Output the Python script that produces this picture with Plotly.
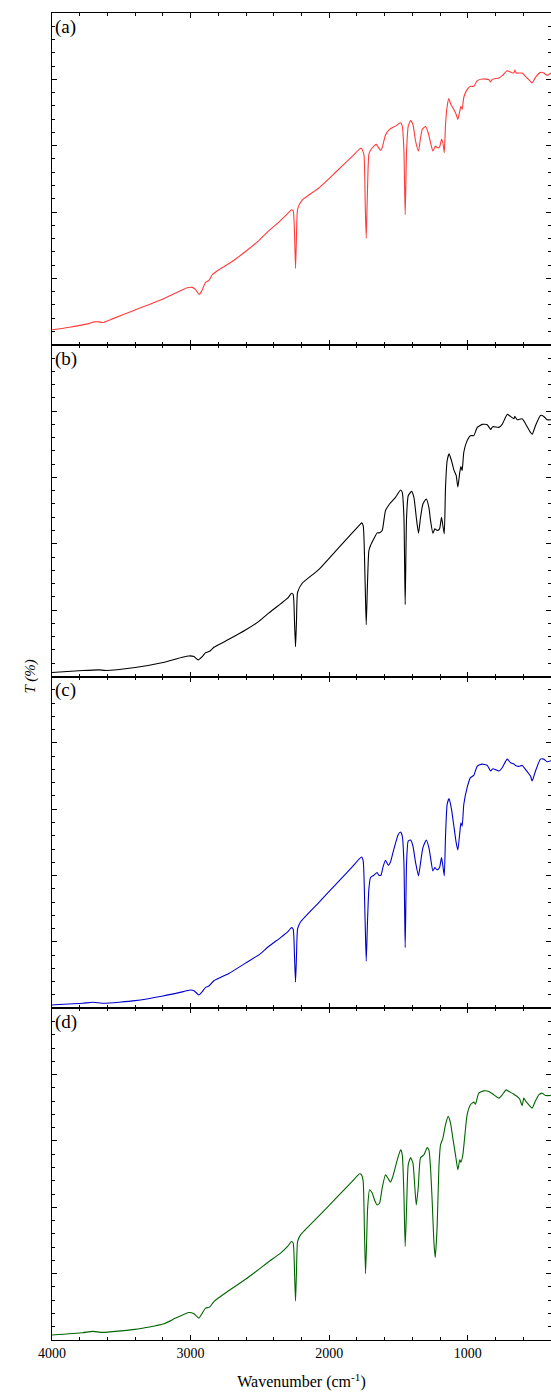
import plotly.graph_objects as go
from plotly.subplots import make_subplots

# FTIR transmittance spectra, four samples (a)-(d); T on an arbitrary 0-100 scale per panel
wn_a = [4000, 3875, 3743, 3695, 3660, 3636, 3564, 3400, 3199, 3108, 3024, 2988, 2964, 2940, 2921,
        2892, 2868, 2844, 2796, 2700, 2604, 2508, 2437, 2365, 2300, 2272, 2260, 2250, 2243, 2236,
        2228, 2195, 2074, 1954, 1834, 1774, 1767, 1750, 1740, 1733, 1725, 1714, 1702, 1678, 1661,
        1647, 1630, 1618, 1594, 1565, 1522, 1485, 1473, 1461, 1452, 1442, 1430, 1413, 1396, 1377,
        1356, 1341, 1329, 1305, 1286, 1269, 1252, 1233, 1221, 1204, 1190, 1180, 1170, 1161, 1149,
        1137, 1122, 1101, 1084, 1072, 1058, 1050, 1041, 1029, 1005, 981, 957, 932, 896, 848,
        836, 824, 776, 752, 716, 692, 668, 661, 651, 608, 584, 548, 536, 512, 476,
        452, 428, 400]
t_a = [4.5, 5.3, 6.3, 6.9, 6.9, 6.7, 7.8, 10.5, 13.8, 15.6, 17.2, 17.3, 16.6, 15.2, 16.1,
       18.8, 19.4, 21.1, 22.6, 25.1, 28.1, 31.4, 34.3, 36.9, 39.5, 40.7, 40.4, 33.0, 23.0, 33.0,
       40.9, 43.6, 47.3, 52.0, 56.8, 59.2, 59.2, 57.4, 42.0, 32.1, 45.0, 57.4, 58.6, 59.9, 60.4,
       59.6, 58.6, 59.4, 63.2, 64.9, 65.9, 66.9, 65.9, 58.4, 39.2, 58.4, 65.9, 67.6, 66.4, 61.4,
       58.4, 62.4, 64.9, 65.8, 63.9, 60.9, 58.4, 59.9, 59.4, 59.6, 61.9, 60.9, 57.9, 66.4, 71.9,
       74.2, 72.4, 70.9, 69.4, 67.9, 70.4, 71.9, 70.9, 74.6, 76.9, 77.9, 77.9, 79.6, 80.1, 79.9,
       79.2, 80.0, 80.4, 81.1, 82.6, 82.2, 81.9, 82.8, 81.9, 81.9, 80.9, 79.4, 78.9, 80.6, 82.1,
       81.9, 81.2, 81.9]

wn_b = [4000, 3779, 3660, 3612, 3400, 3199, 3060, 3012, 2976, 2945, 2916, 2892, 2863, 2832, 2724,
        2604, 2508, 2437, 2351, 2300, 2272, 2260, 2250, 2243, 2236, 2228, 2195, 2074, 1954, 1834,
        1774, 1767, 1755, 1742, 1733, 1724, 1714, 1702, 1678, 1654, 1637, 1618, 1594, 1565, 1522,
        1485, 1473, 1461, 1452, 1442, 1430, 1406, 1389, 1372, 1356, 1341, 1324, 1300, 1281, 1269,
        1252, 1238, 1221, 1204, 1190, 1180, 1170, 1161, 1149, 1135, 1118, 1101, 1084, 1072, 1058,
        1050, 1041, 1029, 1005, 981, 957, 932, 896, 860, 836, 820, 776, 752, 716, 692,
        668, 661, 644, 608, 584, 548, 536, 512, 476, 452, 428, 400]
t_b = [1.2, 1.8, 2.0, 1.8, 2.7, 4.2, 5.8, 6.2, 6.0, 5.0, 6.0, 7.2, 7.6, 8.8, 11.2,
       14.0, 16.6, 19.1, 21.9, 23.6, 25.1, 24.7, 16.0, 9.0, 17.0, 25.4, 28.1, 32.3, 37.8, 43.3,
       46.0, 46.3, 45.5, 30.0, 15.6, 28.0, 37.9, 39.5, 41.5, 43.3, 43.3, 44.0, 50.0, 52.0, 54.0,
       56.2, 55.5, 48.0, 21.7, 48.0, 54.5, 55.8, 54.0, 48.0, 43.2, 48.0, 52.0, 53.5, 51.0, 47.0,
       43.2, 44.5, 44.0, 44.5, 48.0, 45.5, 43.0, 57.1, 65.1, 67.1, 65.1, 62.3, 60.6, 57.1, 61.6,
       63.3, 62.1, 67.6, 71.1, 72.6, 72.6, 75.1, 76.0, 75.9, 74.5, 75.3, 75.1, 76.0, 79.0, 78.4,
       77.7, 78.4, 77.4, 77.7, 76.2, 73.6, 73.0, 75.6, 78.7, 78.4, 77.4, 77.4]

wn_c = [4000, 3779, 3707, 3624, 3400, 3199, 3084, 3000, 2976, 2940, 2916, 2892, 2868, 2832, 2724,
        2604, 2508, 2437, 2351, 2300, 2272, 2260, 2250, 2243, 2236, 2228, 2207, 2074, 1954, 1834,
        1767, 1755, 1742, 1733, 1724, 1714, 1702, 1678, 1654, 1642, 1627, 1613, 1594, 1574, 1558,
        1534, 1502, 1485, 1473, 1461, 1452, 1442, 1430, 1413, 1396, 1377, 1356, 1341, 1324, 1300,
        1281, 1269, 1252, 1238, 1221, 1204, 1190, 1180, 1170, 1161, 1149, 1135, 1118, 1101, 1084,
        1072, 1058, 1050, 1041, 1029, 1005, 981, 957, 932, 896, 860, 836, 820, 776, 752,
        716, 692, 668, 656, 632, 608, 584, 548, 536, 512, 476, 452, 428, 400]
t_c = [1.0, 1.5, 1.8, 1.5, 2.3, 3.7, 4.7, 5.5, 5.3, 4.0, 5.0, 6.3, 6.7, 8.3, 10.5,
       13.6, 16.1, 18.6, 21.3, 23.0, 24.3, 23.8, 15.0, 7.9, 16.0, 24.0, 26.0, 31.9, 37.3, 42.6,
       45.6, 44.4, 28.0, 14.2, 26.0, 35.9, 39.4, 40.1, 40.9, 40.1, 40.1, 42.4, 44.6, 43.1, 44.1,
       47.9, 52.4, 53.1, 51.9, 43.9, 18.3, 43.9, 50.4, 50.7, 48.9, 43.9, 39.9, 43.9, 48.4, 50.7,
       48.4, 45.4, 41.4, 42.4, 41.7, 42.4, 45.4, 42.9, 39.9, 51.9, 61.5, 63.2, 60.0, 55.0, 49.9,
       47.7, 52.9, 55.9, 54.9, 61.5, 66.5, 69.5, 70.2, 73.0, 73.6, 73.2, 71.5, 72.2, 71.5, 72.5,
       75.1, 74.0, 73.6, 73.2, 72.9, 73.2, 72.0, 70.0, 68.5, 71.5, 75.1, 75.1, 74.3, 74.6]

wn_d = [4000, 3779, 3707, 3636, 3400, 3199, 3108, 3012, 2976, 2940, 2916, 2892, 2863, 2832, 2724,
        2604, 2508, 2437, 2351, 2300, 2272, 2260, 2250, 2243, 2236, 2228, 2207, 2074, 1954, 1834,
        1781, 1767, 1755, 1746, 1738, 1730, 1723, 1709, 1690, 1671, 1654, 1637, 1618, 1594, 1574,
        1558, 1541, 1509, 1485, 1473, 1461, 1452, 1442, 1430, 1413, 1396, 1382, 1372, 1358, 1341,
        1317, 1293, 1281, 1269, 1257, 1245, 1235, 1221, 1209, 1197, 1180, 1161, 1142, 1125, 1108,
        1089, 1072, 1058, 1050, 1036, 1021, 1005, 981, 957, 945, 921, 884, 848, 812, 776,
        752, 723, 704, 668, 644, 627, 608, 596, 584, 560, 536, 512, 488, 464, 440, 400]
t_d = [1.5, 2.2, 2.6, 2.3, 3.2, 4.8, 6.6, 8.3, 7.9, 6.6, 8.1, 9.6, 9.9, 11.6, 14.9,
       18.3, 21.3, 23.6, 26.2, 28.2, 29.7, 29.2, 20.0, 11.8, 21.0, 29.7, 31.7, 37.4, 42.6, 47.8,
       50.1, 49.8, 47.8, 33.0, 20.0, 30.0, 39.7, 45.3, 44.3, 42.0, 40.7, 41.2, 45.8, 49.8, 48.6,
       47.6, 49.3, 54.3, 57.3, 55.8, 43.7, 28.2, 39.7, 52.8, 55.0, 53.3, 45.8, 40.7, 45.8, 55.0,
       55.8, 58.0, 57.3, 51.8, 41.7, 29.7, 24.9, 34.7, 51.8, 58.8, 60.8, 64.9, 67.4, 65.4, 60.8,
       55.8, 51.3, 54.3, 53.6, 55.8, 61.9, 67.9, 70.9, 71.7, 71.1, 74.4, 75.1, 74.9, 73.9, 72.9,
       73.9, 75.4, 74.9, 74.1, 73.4, 72.7, 70.7, 72.9, 72.1, 70.9, 69.9, 72.1, 73.9, 74.4, 73.7, 73.7]

panel_labels = ["(a)", "(b)", "(c)", "(d)"]
line_colors = ["#ff3b3b", "#000000", "#0000cc", "#006400"]
spectra = [(wn_a, t_a), (wn_b, t_b), (wn_c, t_c), (wn_d, t_d)]

SERIF = "Liberation Serif"

fig = make_subplots(rows=4, cols=1, shared_xaxes=True, vertical_spacing=0)

for i, ((wn, t), col) in enumerate(zip(spectra, line_colors), start=1):
    fig.add_trace(go.Scatter(x=wn, y=t, mode="lines",
                             line=dict(color=col, width=1.1, shape="spline", smoothing=0.5),
                             showlegend=False, hoverinfo="skip"), row=i, col=1)
    fig.update_yaxes(range=[0, 100], tick0=0, dtick=20, ticks="inside", ticklen=5,
                     tickcolor="black", showticklabels=False, showgrid=False, zeroline=False,
                     showline=True, linecolor="black", linewidth=1, mirror="ticks",
                     minor=dict(dtick=4, tick0=0, ticks="inside", ticklen=3, tickcolor="black"),
                     row=i, col=1)
    fig.update_xaxes(range=[4000, 400], tick0=0, dtick=1000, ticks="inside", ticklen=5,
                     tickcolor="black", showgrid=False, zeroline=False,
                     showline=True, linecolor="black", linewidth=1, mirror="ticks",
                     minor=dict(dtick=200, tick0=0, ticks="inside", ticklen=3, tickcolor="black"),
                     row=i, col=1)
    yref = "y domain" if i == 1 else f"y{i} domain"
    xref = "x domain" if i == 1 else f"x{i} domain"
    fig.add_annotation(text=panel_labels[i - 1], xref=xref, yref=yref, x=0.002, y=0.997,
                       xanchor="left", yanchor="top", showarrow=False,
                       font=dict(family=SERIF, size=19, color="black"))

fig.update_xaxes(tickfont=dict(family=SERIF, size=14, color="black"),
                 title=dict(text="Wavenumber (cm<sup>-1</sup>)",
                            font=dict(family=SERIF, size=16, color="black"), standoff=16),
                 row=4, col=1)

fig.add_annotation(text="<i>T (%)</i>", xref="paper", yref="paper", x=-0.044, y=0.5,
                   xanchor="center", yanchor="middle", textangle=-90, showarrow=False,
                   font=dict(family=SERIF, size=15, color="black"))

fig.update_layout(width=551, height=1392, margin=dict(l=52, r=0, t=13, b=52),
                  paper_bgcolor="white", plot_bgcolor="white",
                  font=dict(family=SERIF, color="black"))

fig.write_html("out.html")
